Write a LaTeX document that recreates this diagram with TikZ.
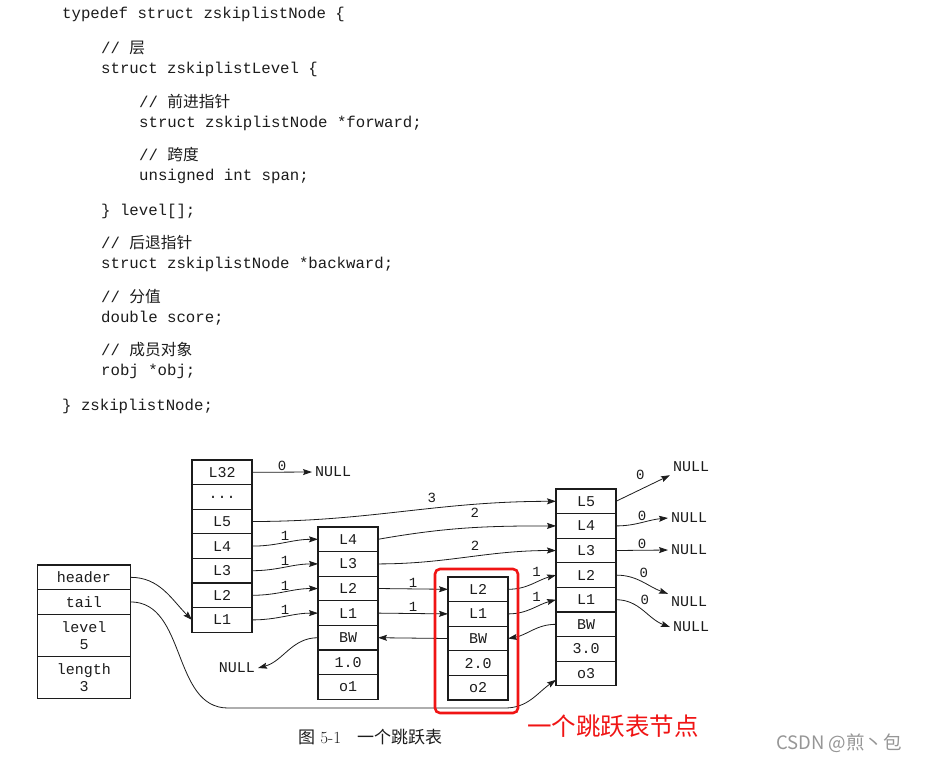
\documentclass[tikz,border=0pt]{standalone}
\usepackage{fontspec}
\setmonofont{Liberation Mono}
\newfontfamily\cjk{Noto Sans CJK SC}
\usetikzlibrary{arrows.meta,positioning,calc}
\definecolor{inkcolor}{RGB}{28,28,28}
\definecolor{markred}{RGB}{240,20,20}
\definecolor{markgray}{RGB}{150,150,150}
\newcommand{\cn}[1]{{\cjk #1}}

\begin{document}
\begin{tikzpicture}[x=1pt,y=1pt,node distance=0pt,>={Stealth[length=9pt,width=6pt,inset=1.5pt]},
  every node/.style={text=inkcolor},
  code/.style={anchor=base west,inner sep=0pt,font=\ttfamily\fontsize{15.7}{18}\selectfont},
  cell/.style={draw=inkcolor,line width=1.1pt,minimum width=60pt,minimum height=24.6pt,inner sep=0pt,outer sep=0pt,font=\ttfamily\fontsize{15}{17}\selectfont},
  lcell/.style={cell,minimum width=93pt,align=center},
  nullt/.style={inner sep=3pt,font=\ttfamily\fontsize{15}{17}\selectfont},
  lbl/.style={inner sep=1.5pt,font=\ttfamily\fontsize{14}{16}\selectfont},
  link/.style={->,draw=inkcolor,line width=0.8pt}]
\useasboundingbox[fill=white] (0,0) rectangle (925,-761);
% struct definition
\node[code] (cl1) at (62,-18) {typedef struct zskiplistNode \{};
\node[code] (cl2) at (101,-53) {// \cn{层}};
\node[code] (cl3) at (101,-73) {struct zskiplistLevel \{};
\node[code] (cl4) at (139,-107) {// \cn{前进指针}};
\node[code] (cl5) at (139,-127) {struct zskiplistNode *forward;};
\node[code] (cl6) at (139,-160) {// \cn{跨度}};
\node[code] (cl7) at (139,-180) {unsigned int span;};
\node[code] (cl8) at (101,-215) {\} level[];};
\node[code] (cl9) at (101,-248) {// \cn{后退指针}};
\node[code] (cl10) at (101,-268) {struct zskiplistNode *backward;};
\node[code] (cl11) at (101,-302) {// \cn{分值}};
\node[code] (cl12) at (101,-322) {double score;};
\node[code] (cl13) at (101,-355) {// \cn{成员对象}};
\node[code] (cl14) at (101,-375) {robj *obj;};
\node[code] (cl15) at (62,-410) {\} zskiplistNode;};
% zskiplist
\node[lcell,anchor=north] (lhead) at (84,-565) {header};
\node[lcell,below=of lhead] (ltail) {tail};
\node[lcell,below=of ltail,minimum height=42pt] (llevel) {level\\5};
\node[lcell,below=of llevel,minimum height=42pt] (llen) {length\\3};
% header node
\node[cell,anchor=north] (h32) at (222,-460) {L32};
\node[cell,below=of h32] (hdots) {...};
\node[cell,below=of hdots] (h5) {L5};
\node[cell,below=of h5] (h4) {L4};
\node[cell,below=of h4] (h3) {L3};
\node[cell,below=of h3] (h2) {L2};
\node[cell,below=of h2] (h1) {L1};
% node o1
\node[cell,anchor=north] (a4) at (348,-527) {L4};
\node[cell,below=of a4] (a3) {L3};
\node[cell,below=of a3] (a2) {L2};
\node[cell,below=of a2] (a1) {L1};
\node[cell,below=of a1] (abw) {BW};
\node[cell,below=of abw] (ascore) {1.0};
\node[cell,below=of ascore] (aobj) {o1};
% node o2
\node[cell,anchor=north] (b2) at (478,-577) {L2};
\node[cell,below=of b2] (b1) {L1};
\node[cell,below=of b1] (bbw) {BW};
\node[cell,below=of bbw] (bscore) {2.0};
\node[cell,below=of bscore] (bobj) {o2};
% node o3
\node[cell,anchor=north] (c5) at (586,-489) {L5};
\node[cell,below=of c5] (c4) {L4};
\node[cell,below=of c4] (c3) {L3};
\node[cell,below=of c3] (c2) {L2};
\node[cell,below=of c2] (c1) {L1};
\node[cell,below=of c1] (cbw) {BW};
\node[cell,below=of cbw] (cscore) {3.0};
\node[cell,below=of cscore] (cobj) {o3};
% NULL ends
\node[nullt,anchor=west] (nul32) at (312,-472) {NULL};
\node[nullt,anchor=east] (nula) at (258,-668) {NULL};
\node[nullt,anchor=west] (n5) at (670,-467) {NULL};
\node[nullt,anchor=west] (n4) at (668,-518) {NULL};
\node[nullt,anchor=west] (n3) at (668,-550) {NULL};
\node[nullt,anchor=west] (n2) at (668,-602) {NULL};
\node[nullt,anchor=west] (n1) at (670,-627) {NULL};
\coordinate (tail1) at (228,-708); \coordinate (tail2) at (505,-708);
% forward pointers
\draw[link] (h32.east) -- node[lbl,above] (s32) {0} (nul32.west);
\draw[link] (h5.east) to[out=0,in=180] node[lbl,above=4pt,pos=0.6] (s5) {3} (c5.west);
\draw[link] (h4.east) to[out=0,in=180] node[lbl,above] (s4) {1} (a4.west);
\draw[link] (h3.east) to[out=0,in=180] node[lbl,above] (s3) {1} (a3.west);
\draw[link] (h2.east) to[out=0,in=180] node[lbl,above] (s2) {1} (a2.west);
\draw[link] (h1.east) to[out=0,in=180] node[lbl,above] (s1) {1} (a1.west);
\draw[link] (a4.east) to[out=10,in=180] node[lbl,above=8pt,pos=0.55] (sa4) {2} (c4.west);
\draw[link] (a3.east) to[out=0,in=180] node[lbl,above=4pt,pos=0.55] (sa3) {2} (c3.west);
\draw[link] (a2.east) -- node[lbl,above] (sa2) {1} (b2.west);
\draw[link] (a1.east) -- node[lbl,above] (sa1) {1} (b1.west);
\draw[link] (b2.east) to[out=0,in=195] node[lbl,above=4pt,pos=0.6] (sb2) {1} (c2.west);
\draw[link] (b1.east) to[out=0,in=195] node[lbl,above=3pt,pos=0.6] (sb1) {1} (c1.west);
\draw[link] (c5.east) -- node[lbl,above=8pt,pos=0.45] (sc5) {0} (n5.south west);
\draw[link] (c4.east) to[out=0,in=185] node[lbl,above,pos=0.5] (sc4) {0} (n4.west);
\draw[link] (c3.east) -- node[lbl,above,pos=0.5] (sc3) {0} (n3.west);
\draw[link] (c2.east) to[out=0,in=160] node[lbl,above right=0pt,pos=0.4] (sc2) {0} (n2.north west);
\draw[link] (c1.east) to[out=0,in=160] node[lbl,above right=0pt,pos=0.4] (sc1) {0} (n1.west);
% backward pointers
\draw[link] (bbw.west) -- (abw.east);
\draw[link] (cbw.west) to[out=180,in=10] (bbw.east);
\draw[link] (abw.west) to[out=180,in=15] (nula.east);
% header and tail
\draw[link] (lhead.east) to[out=0,in=135] (h1.west);
\draw[link] (ltail.east) to[out=0,in=180] (tail1) -- (tail2) to[out=0,in=-145] ([yshift=6pt]cobj.south west);
% highlight
\draw[markred,line width=2.6pt,rounded corners=5pt] (435,-569) rectangle (518,-713);
\node[anchor=west,inner sep=0pt,text=markred,font=\cjk\fontsize{24.5}{28}\selectfont] (mark) at (527,-726) {一个跳跃表节点};
\node[anchor=west,inner sep=0pt,font=\fontsize{17}{20}\selectfont] (fig) at (298,-737) {\cn{图}~5-1\hspace{16pt}\cn{一个跳跃表}};
\node[anchor=west,inner sep=0pt,text=markgray,font=\cjk\fontsize{18.5}{22}\selectfont] (wm) at (776,-743) {CSDN @煎丶包};
\end{tikzpicture}
\end{document}
